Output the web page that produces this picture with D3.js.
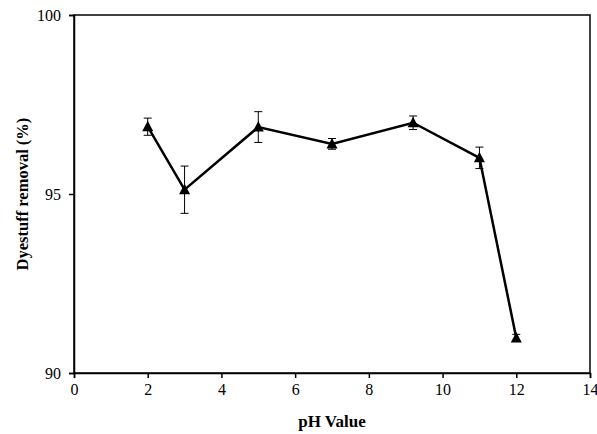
<!DOCTYPE html>
<meta charset="utf-8">
<title>Dyestuff removal vs pH</title>
<script src="https://d3js.org/d3.v7.min.js"></script>
<style>
    body { margin: 0; background: #fff; }
    text { font-family: "Liberation Serif", "Times New Roman", serif; fill: #000; }
</style>
<body>
<script>
    // Data
    const phValues  = [2, 3, 5, 7, 9.2, 11, 12];
    const removal   = [96.88, 95.12, 96.87, 96.40, 96.99, 96.01, 90.98];
    const errors    = [0.24, 0.66, 0.43, 0.15, 0.19, 0.30, 0.10];
    const xTicks    = [0, 2, 4, 6, 8, 10, 12, 14];
    const yTicks    = [90, 95, 100];

    const width  = 597;
    const height = 434;
    const margin = { top: 15, right: 7, bottom: 61, left: 74 };

    const xScale = d3.scaleLinear().domain([0, 14]).range([margin.left, width - margin.right]);
    const yScale = d3.scaleLinear().domain([90, 100]).range([height - margin.bottom, margin.top]);

    const svg = d3.select("body")
                .append("svg")
                .attr("width", width)
                .attr("height", height);

    // Frame box
    svg.append("rect")
        .attr("x", xScale(0))
        .attr("y", yScale(100))
        .attr("width", xScale(14) - xScale(0))
        .attr("height", yScale(90) - yScale(100))
        .attr("fill", "none")
        .attr("stroke", "#000")
        .attr("stroke-width", 1.5);

    // Axes
    const xAxis = d3.axisBottom(xScale).tickValues(xTicks).tickSize(5).tickPadding(6);
    const yAxis = d3.axisLeft(yScale).tickValues(yTicks).tickSize(5).tickPadding(8);

    const gx = svg.append("g")
        .attr("transform", "translate(0," + yScale(90) + ")")
        .call(xAxis);
    const gy = svg.append("g")
        .attr("transform", "translate(" + xScale(0) + ",0)")
        .call(yAxis);

    [gx, gy].forEach(g => {
        g.select(".domain").attr("stroke-width", 1.5);
        g.selectAll(".tick line").attr("stroke-width", 1.5);
        g.selectAll("text")
            .attr("font-size", 16)
            .attr("fill", "#000");
    });

    // Error bars
    const points = phValues.map((x, i) => ({ x: x, y: removal[i], e: errors[i] }));
    const eb = svg.append("g").attr("id", "errorbars");
    points.forEach(d => {
        const cx = xScale(d.x);
        const yt = yScale(d.y + d.e);
        const yb = yScale(d.y - d.e);
        eb.append("line").attr("x1", cx).attr("x2", cx).attr("y1", yt).attr("y2", yb)
            .attr("stroke", "#000").attr("stroke-width", 1);
        [yt, yb].forEach(yy => {
            eb.append("line").attr("x1", cx - 4).attr("x2", cx + 4).attr("y1", yy).attr("y2", yy)
                .attr("stroke", "#000").attr("stroke-width", 1);
        });
    });

    // Line
    const line = d3.line().x(d => xScale(d.x)).y(d => yScale(d.y));
    svg.append("path")
        .datum(points)
        .attr("d", line)
        .attr("fill", "none")
        .attr("stroke", "#000")
        .attr("stroke-width", 2.5);

    // Triangle markers
    svg.append("g")
        .selectAll("path")
        .data(points)
        .enter()
        .append("path")
        .attr("transform", d => "translate(" + xScale(d.x) + "," + yScale(d.y) + ")")
        .attr("d", "M0,-6L5.5,4.5L-5.5,4.5Z")
        .attr("fill", "#000");

    // Axis titles
    svg.append("text")
        .attr("x", 332)
        .attr("y", 427)
        .attr("text-anchor", "middle")
        .attr("font-weight", "bold")
        .attr("font-size", 17)
        .text("pH Value");

    svg.append("text")
        .attr("transform", "translate(28," + ((yScale(90) + yScale(100)) / 2) + ") rotate(-90)")
        .attr("text-anchor", "middle")
        .attr("font-weight", "bold")
        .attr("font-size", 16.5)
        .text("Dyestuff removal (%)");
</script>
</body>
